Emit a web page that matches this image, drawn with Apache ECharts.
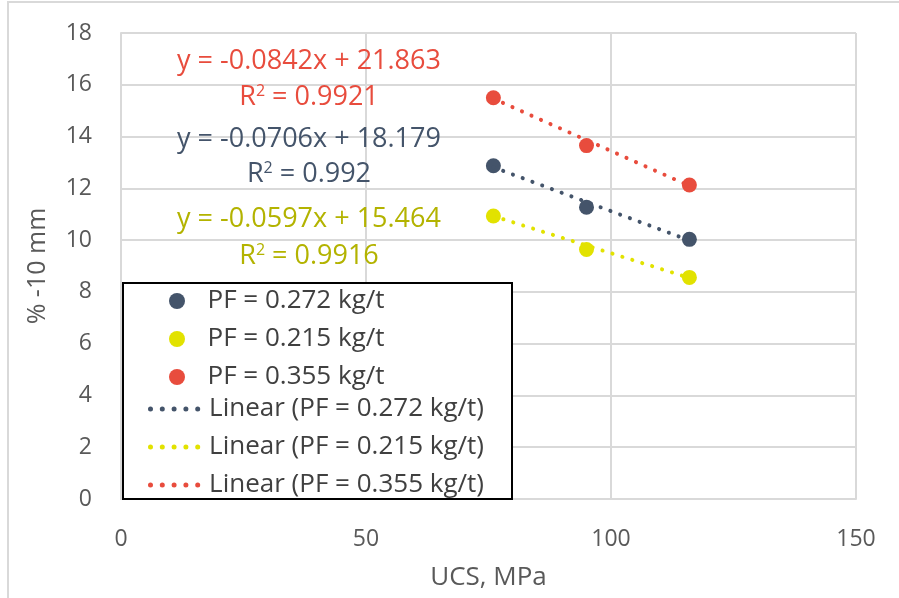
<!DOCTYPE html>
<html>
<head>
<meta charset="utf-8">
<script src="https://cdn.jsdelivr.net/npm/echarts@6/dist/echarts.min.js"></script>
<style>
html,body{margin:0;padding:0;background:#fff;}
#chart{width:899px;height:598px;}
</style>
</head>
<body>
<div id="chart"></div>
<script>
// ---- data ----
const ucs = [76, 95, 116];
const seriesNames = ['PF = 0.272 kg/t', 'PF = 0.215 kg/t', 'PF = 0.355 kg/t'];
const pf272 = [12.87, 11.27, 10.03];
const pf215 = [10.93, 9.64, 8.56];
const pf355 = [15.50, 13.65, 12.13];
const slopes = [-0.0706, -0.0597, -0.0842];
const intercepts = [18.179, 15.464, 21.863];
const r2 = ['0.992', '0.9916', '0.9921'];
const xTicks = [0, 50, 100, 150];
const yTicks = [0, 2, 4, 6, 8, 10, 12, 14, 16, 18];

const values = [pf272, pf215, pf355];
const colors = ['#44546A', '#E2E200', '#E84C3D'];
const textColors = ['#44546A', '#B3B300', '#E84C3D'];
const FONT = '"Open Sans", "Noto Sans", sans-serif';

const scatterSeries = values.map((v, i) => ({
  name: seriesNames[i],
  type: 'scatter',
  symbol: 'circle',
  symbolSize: 15,
  itemStyle: { color: colors[i], opacity: 1 },
  data: ucs.map((x, k) => [x, v[k]]),
  z: 3
}));

const trendSeries = values.map((v, i) => {
  const x0 = ucs[0], x1 = ucs[ucs.length - 1];
  return {
    name: 'Linear (' + seriesNames[i] + ')',
    type: 'line',
    symbol: 'none',
    silent: true,
    color: colors[i],
    lineStyle: { color: colors[i], width: 4, type: [0.1, 10.3], cap: 'round' },
    data: [[x0, slopes[i] * x0 + intercepts[i]], [x1, slopes[i] * x1 + intercepts[i]]],
    z: 4
  };
});

const dotPath = 'path://' + [0, 11.8, 23.6, 35.4, 47.2].map(x =>
  'M' + x + ',2.5a2.5,2.5 0 1,0 5,0a2.5,2.5 0 1,0 -5,0Z').join(' ');

function eqText(i) {
  const s = slopes[i];
  return 'y = ' + s.toFixed(4) + 'x + ' + intercepts[i].toFixed(3);
}
// order: red, gray, yellow (top to bottom)
const eqOrder = [2, 0, 1];
const eqY = [[61, 97], [139, 174], [219, 256]];
const eqGraphics = [];
eqOrder.forEach((si, row) => {
  eqGraphics.push({
    type: 'text', x: 309, y: eqY[row][0], z: 20,
    style: { text: eqText(si), fill: textColors[si], font: '27px ' + FONT, align: 'center', verticalAlign: 'middle' }
  });
  eqGraphics.push({
    type: 'text', x: 309, y: eqY[row][1], z: 20,
    style: {
      text: '{n|R}{s|2}{n| = ' + r2[si] + '}',
      fill: textColors[si], align: 'center', verticalAlign: 'middle',
      rich: {
        n: { fontSize: 27, fontFamily: FONT, fill: textColors[si], color: textColors[si] },
        s: { fontSize: 16, fontFamily: FONT, fill: textColors[si], color: textColors[si], verticalAlign: 'top', padding: [0, 0, 12, 0] }
      }
    }
  });
});

const legendText = { fontSize: 26, color: '#404040', fontFamily: FONT, lineHeight: 24 };

const chart = echarts.init(document.getElementById('chart'), null, { renderer: 'canvas' });
chart.setOption({
  animation: false,
  backgroundColor: '#fff',
  textStyle: { fontFamily: FONT },
  grid: { left: 121, top: 33, right: 43, bottom: 99, containLabel: false, outerBoundsMode: 'none' },
  xAxis: {
    type: 'value', min: xTicks[0], max: xTicks[xTicks.length - 1], interval: 50,
    name: 'UCS, MPa', nameLocation: 'middle', nameGap: 66,
    nameTextStyle: { fontSize: 26, color: '#595959', fontFamily: FONT },
    axisLine: { show: true, lineStyle: { color: '#d9d9d9', width: 2 } },
    axisTick: { show: false },
    axisLabel: { fontSize: 23, color: '#595959', margin: 29, fontFamily: FONT },
    splitLine: { show: true, lineStyle: { color: '#d9d9d9', width: 2 } }
  },
  yAxis: {
    type: 'value', min: yTicks[0], max: yTicks[yTicks.length - 1], interval: 2,
    name: '% -10 mm', nameLocation: 'middle', nameGap: 71,
    nameTextStyle: { fontSize: 25, color: '#595959', fontFamily: FONT },
    axisLine: { show: true, lineStyle: { color: '#d9d9d9', width: 2 } },
    axisTick: { show: false },
    axisLabel: { fontSize: 23, color: '#595959', margin: 29, fontFamily: FONT },
    splitLine: { show: true, lineStyle: { color: '#d9d9d9', width: 2 } }
  },
  legend: [
    {
      orient: 'vertical', left: 169, top: 288, padding: 0,
      itemWidth: 51, itemHeight: 16, itemGap: 12, z: 30,
      data: seriesNames.map(n => ({ name: n, icon: 'circle' })),
      textStyle: legendText,
      selectedMode: false
    },
    {
      orient: 'vertical', left: 148, top: 396, padding: 0,
      itemWidth: 60, itemHeight: 5, itemGap: 12, z: 30,
      data: seriesNames.map(n => ({ name: 'Linear (' + n + ')', icon: dotPath })),
      textStyle: legendText,
      selectedMode: false
    }
  ],
  graphic: [
    { type: 'rect', x: 8, y: 2, shape: { width: 900, height: 600 }, z: -10, style: { fill: 'none', stroke: '#d9d9d9', lineWidth: 2 } },
    { type: 'rect', x: 123, y: 283, shape: { width: 389, height: 216 }, z: 10, style: { fill: '#fff', stroke: '#000', lineWidth: 2 } }
  ].concat(eqGraphics),
  series: scatterSeries.concat(trendSeries)
});
</script>
</body>
</html>
